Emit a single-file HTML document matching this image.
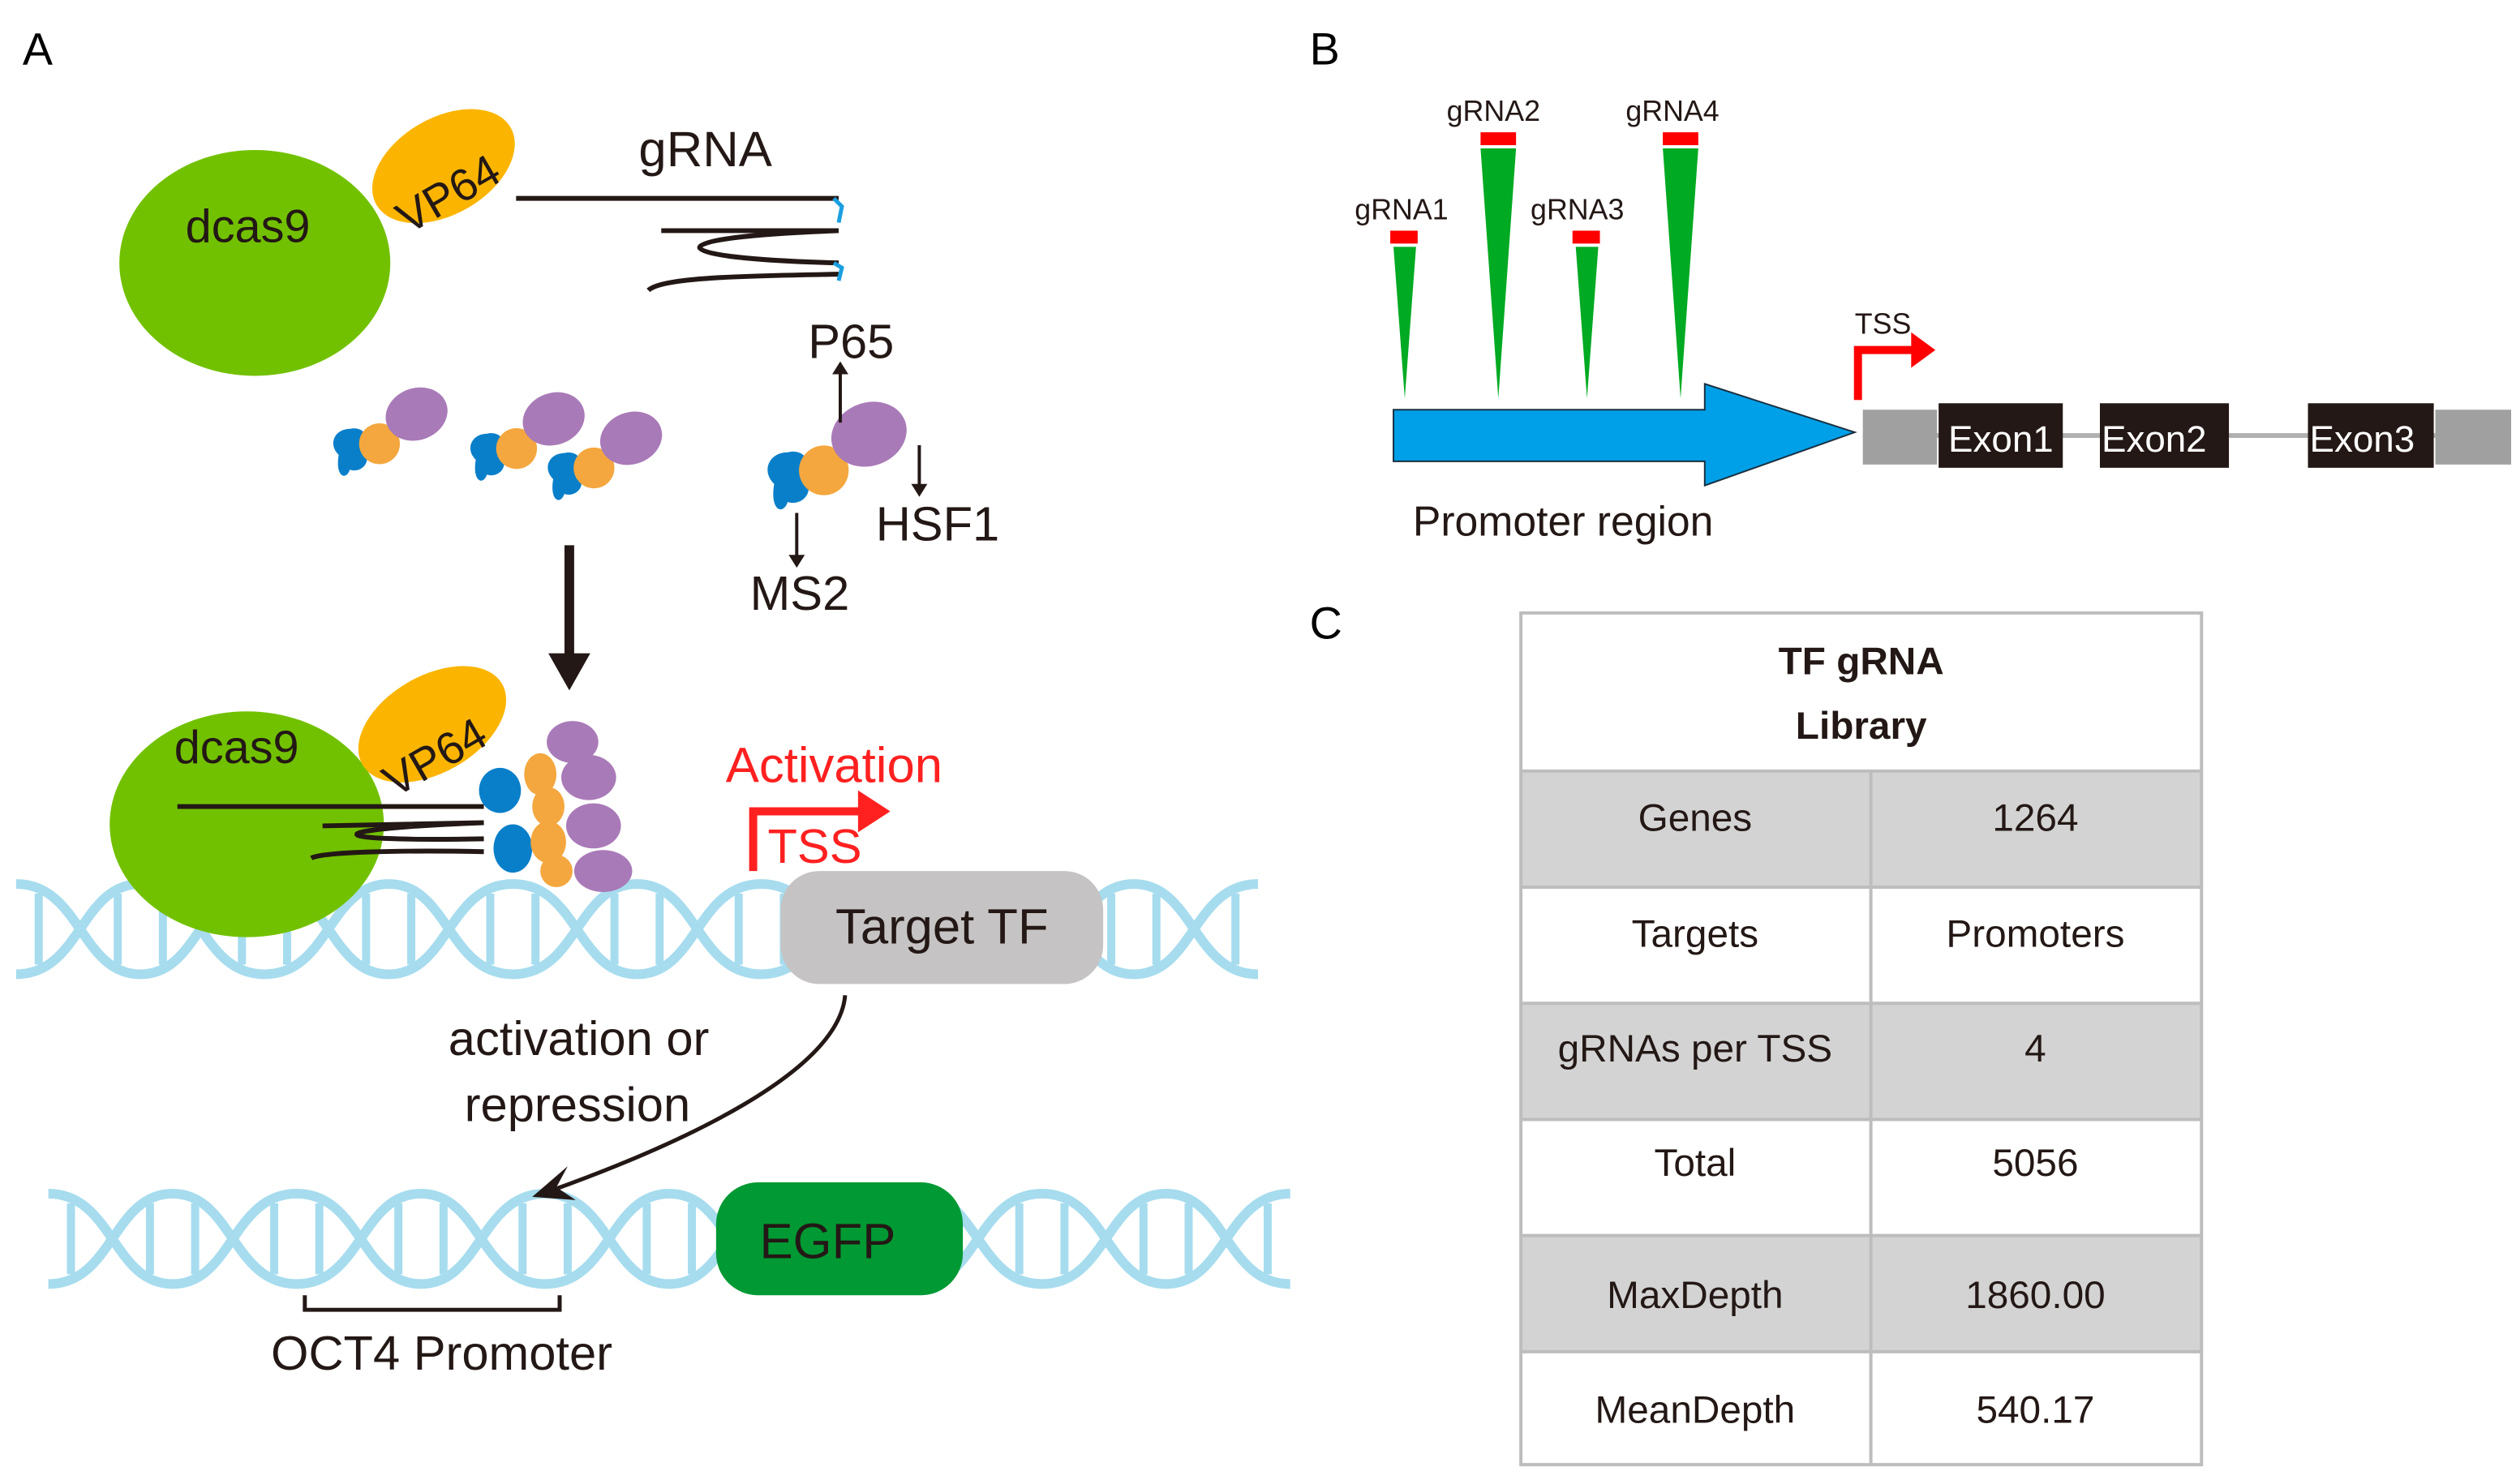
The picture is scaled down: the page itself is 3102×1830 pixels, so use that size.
<!DOCTYPE html>
<html><head><meta charset="utf-8"><style>
html,body{margin:0;padding:0;background:#fff;}
svg{display:block;}
text{font-family:"Liberation Sans",sans-serif;}
</style></head><body>
<svg width="3102" height="1830" viewBox="0 0 1560 920" preserveAspectRatio="none" xmlns="http://www.w3.org/2000/svg">
<defs>
<g id="helix">
<path d="M0,-28 C40,-28 40,28 77,28 C114,28 114,-28 154,-28 C194,-28 194,28 231,28 C268,28 268,-28 308,-28 C348,-28 348,28 385,28 C422,28 422,-28 462,-28 C502,-28 502,28 539,28 C576,28 576,-28 616,-28 C656,-28 656,28 693,28 C730,28 730,-28 770,-28" fill="none" stroke="#a6dcee" stroke-width="6"/>
<path d="M0,28 C40,28 40,-28 77,-28 C114,-28 114,28 154,28 C194,28 194,-28 231,-28 C268,-28 268,28 308,28 C348,28 348,-28 385,-28 C422,-28 422,28 462,28 C502,28 502,-28 539,-28 C576,-28 576,28 616,28 C656,28 656,-28 693,-28 C730,-28 730,28 770,28" fill="none" stroke="#a6dcee" stroke-width="6"/>
<g stroke="#a6dcee" stroke-width="5">
<line x1="14" y1="-22" x2="14" y2="22"/>
<line x1="63" y1="-22" x2="63" y2="22"/><line x1="91" y1="-22" x2="91" y2="22"/>
<line x1="140" y1="-22" x2="140" y2="22"/><line x1="168" y1="-22" x2="168" y2="22"/>
<line x1="217" y1="-22" x2="217" y2="22"/><line x1="245" y1="-22" x2="245" y2="22"/>
<line x1="294" y1="-22" x2="294" y2="22"/><line x1="322" y1="-22" x2="322" y2="22"/>
<line x1="371" y1="-22" x2="371" y2="22"/><line x1="399" y1="-22" x2="399" y2="22"/>
<line x1="448" y1="-22" x2="448" y2="22"/><line x1="476" y1="-22" x2="476" y2="22"/>
<line x1="525" y1="-22" x2="525" y2="22"/><line x1="553" y1="-22" x2="553" y2="22"/>
<line x1="602" y1="-22" x2="602" y2="22"/><line x1="630" y1="-22" x2="630" y2="22"/>
<line x1="679" y1="-22" x2="679" y2="22"/><line x1="707" y1="-22" x2="707" y2="22"/>
<line x1="756" y1="-22" x2="756" y2="22"/>
</g>
</g>
<g id="act">
<path d="M0,0 c-6,-6 -2,-14 6,-14 c8,-2 12,6 8,12 c4,6 -2,12 -8,10 c-2,6 -8,4 -6,-8z" fill="#0a7fc9"/>
<circle cx="22" cy="-6" r="11" fill="#f4a73e"/>
<ellipse cx="42" cy="-22" rx="17" ry="14" fill="#a97ab8" transform="rotate(-20 42 -22)"/>
</g>
</defs>
<rect width="1560" height="920" fill="#fff"/>
<!-- Panel A -->
<text x="14" y="40" font-size="28">A</text>
<ellipse cx="158" cy="163" rx="84" ry="70" fill="#72c100"/>
<text x="115" y="150" font-size="29" fill="#231815">dcas9</text>
<ellipse cx="275" cy="103" rx="48" ry="30" fill="#fbb500" transform="rotate(-30 275 103)"/>
<text x="240" y="133" font-size="28" fill="#231815" transform="rotate(-30 270 115)">VP64</text>
<text x="396" y="103" font-size="31" fill="#231815">gRNA</text>
<path d="M320,123 L520,123 M410,143 L520,143 C405,147 405,160 520,163 M402,180 C410,172 460,171 520,170" fill="none" stroke="#231815" stroke-width="3"/>
<path d="M517,123 L522,128 L520,138 M517,163 L522,166 L520,174" stroke="#1aa0e0" stroke-width="2.5" fill="none"/>
<g transform="translate(210,282) scale(1.15)"><use href="#act"/></g>
<g transform="translate(295,285) scale(1.15)"><use href="#act"/></g>
<g transform="translate(343,297) scale(1.15)"><use href="#act"/></g>
<g transform="translate(480,300) scale(1.4)"><use href="#act"/></g>
<text x="501" y="222" font-size="30" fill="#231815">P65</text>
<line x1="521" y1="262" x2="521" y2="230" stroke="#231815" stroke-width="2"/><path d="M516,232 L521,224 L526,232z" fill="#231815"/>
<line x1="570" y1="276" x2="570" y2="302" stroke="#231815" stroke-width="2"/><path d="M565,300 L570,308 L575,300z" fill="#231815"/>
<text x="543" y="335" font-size="30" fill="#231815">HSF1</text>
<line x1="494" y1="318" x2="494" y2="346" stroke="#231815" stroke-width="2"/><path d="M489,344 L494,352 L499,344z" fill="#231815"/>
<text x="465" y="378" font-size="30" fill="#231815">MS2</text>
<line x1="353" y1="338" x2="353" y2="408" stroke="#231815" stroke-width="6"/><path d="M340,405 L353,428 L366,405z" fill="#231815"/>
<use href="#helix" x="10" y="576"/>
<use href="#helix" x="30" y="768"/>
<ellipse cx="153" cy="511" rx="85" ry="70" fill="#72c100"/>
<text x="108" y="473" font-size="29" fill="#231815">dcas9</text>
<ellipse cx="268" cy="449" rx="50" ry="30" fill="#fbb500" transform="rotate(-30 268 449)"/>
<text x="230" y="480" font-size="28" fill="#231815" transform="rotate(-30 265 460)">VP64</text>
<path d="M110,500 L300,500 M200,512 L300,510 C195,514 195,522 300,520 M193,532 C200,528 250,527 300,528" fill="none" stroke="#231815" stroke-width="3"/>
<g fill="#0a7fc9"><ellipse cx="310" cy="490" rx="13" ry="14"/><ellipse cx="318" cy="526" rx="12" ry="15"/></g>
<g fill="#f4a73e"><ellipse cx="335" cy="480" rx="10" ry="13"/><ellipse cx="340" cy="500" rx="10" ry="12"/><ellipse cx="340" cy="522" rx="11" ry="13"/><ellipse cx="345" cy="540" rx="10" ry="10"/></g>
<g fill="#a97ab8"><ellipse cx="355" cy="460" rx="16" ry="13"/><ellipse cx="365" cy="482" rx="17" ry="14"/><ellipse cx="368" cy="512" rx="17" ry="14"/><ellipse cx="374" cy="540" rx="18" ry="13"/></g>
<text x="450" y="485" font-size="31" fill="#ff2020">Activation</text>
<path d="M467,540 L467,503 L535,503" fill="none" stroke="#ff2020" stroke-width="5"/><path d="M532,490 L552,503 L532,516z" fill="#ff2020"/>
<text x="476" y="535" font-size="30" fill="#ff2020">TSS</text>
<rect x="484" y="540" width="200" height="70" rx="24" fill="#c5c3c3"/>
<text x="518" y="585" font-size="31" fill="#231815">Target TF</text>
<text x="278" y="654" font-size="30" fill="#231815">activation or</text>
<text x="288" y="695" font-size="30" fill="#231815">repression</text>
<path d="M524,617 C520,665 420,710 342,738" fill="none" stroke="#231815" stroke-width="2.5"/>
<path d="M330,742 L352,723 L345,736 L357,744z" fill="#231815"/>
<rect x="444" y="733" width="153" height="70" rx="26" fill="#009933"/>
<text x="471" y="780" font-size="31" fill="#231815">EGFP</text>
<path d="M189,803 L189,812 L347,812 L347,803" fill="none" stroke="#231815" stroke-width="2.5"/>
<text x="168" y="849" font-size="30" fill="#231815">OCT4 Promoter</text>
<!-- Panel B -->
<text x="812" y="40" font-size="28">B</text>
<g font-size="18" fill="#231815">
<text x="840" y="136">gRNA1</text><text x="897" y="75">gRNA2</text><text x="949" y="136">gRNA3</text><text x="1008" y="75">gRNA4</text>
</g>
<g fill="#ff0000"><rect x="862" y="143" width="17" height="8"/><rect x="918" y="82" width="22" height="8"/><rect x="975" y="143" width="17" height="8"/><rect x="1031" y="82" width="22" height="8"/></g>
<g fill="#00aa22"><path d="M864,153 L878,153 L871,247z"/><path d="M918,92 L940,92 L929,247z"/><path d="M977,153 L991,153 L984,247z"/><path d="M1031,92 L1053,92 L1042,247z"/></g>
<path d="M864,254 L1057,254 L1057,238 L1150,268 L1057,301 L1057,286 L864,286z" fill="#00a0e9" stroke="#1a3040" stroke-width="1"/>
<text x="876" y="332" font-size="26" fill="#231815">Promoter region</text>
<text x="1150" y="207" font-size="18" fill="#231815">TSS</text>
<path d="M1152,248 L1152,217 L1188,217" fill="none" stroke="#ff0000" stroke-width="5"/><path d="M1185,206 L1200,217 L1185,228z" fill="#ff0000"/>
<line x1="1155" y1="270" x2="1556" y2="270" stroke="#b0b0b0" stroke-width="3"/>
<rect x="1155" y="254" width="46" height="34" fill="#a0a0a0"/>
<rect x="1510" y="254" width="47" height="34" fill="#a0a0a0"/>
<g fill="#231815"><rect x="1202" y="250" width="77" height="40"/><rect x="1302" y="250" width="80" height="40"/><rect x="1431" y="250" width="78" height="40"/></g>
<g font-size="23" fill="#fff"><text x="1208" y="280">Exon1</text><text x="1303" y="280">Exon2</text><text x="1432" y="280">Exon3</text></g>
<!-- Panel C -->
<text x="812" y="396" font-size="28">C</text>
<g fill="#d3d3d3"><rect x="943" y="478" width="422" height="72"/><rect x="943" y="622" width="422" height="72"/><rect x="943" y="766" width="422" height="72"/></g>
<g stroke="#bdbdbd" stroke-width="2" fill="none">
<rect x="943" y="380" width="422" height="528"/>
<line x1="943" y1="478" x2="1365" y2="478"/><line x1="943" y1="550" x2="1365" y2="550"/><line x1="943" y1="622" x2="1365" y2="622"/><line x1="943" y1="694" x2="1365" y2="694"/><line x1="943" y1="766" x2="1365" y2="766"/><line x1="943" y1="838" x2="1365" y2="838"/>
<line x1="1160" y1="478" x2="1160" y2="908"/>
</g>
<g font-family="'DejaVu Sans','Liberation Sans',sans-serif" font-size="24" fill="#231815" text-anchor="middle">
<text x="1154" y="418" font-weight="bold">TF gRNA</text><text x="1154" y="458" font-weight="bold">Library</text>
<text x="1051" y="515">Genes</text><text x="1262" y="515">1264</text>
<text x="1051" y="587">Targets</text><text x="1262" y="587">Promoters</text>
<text x="1051" y="658">gRNAs per TSS</text><text x="1262" y="658">4</text>
<text x="1051" y="729">Total</text><text x="1262" y="729">5056</text>
<text x="1051" y="811">MaxDepth</text><text x="1262" y="811">1860.00</text>
<text x="1051" y="882">MeanDepth</text><text x="1262" y="882">540.17</text>
</g>
</svg>
</body></html>
